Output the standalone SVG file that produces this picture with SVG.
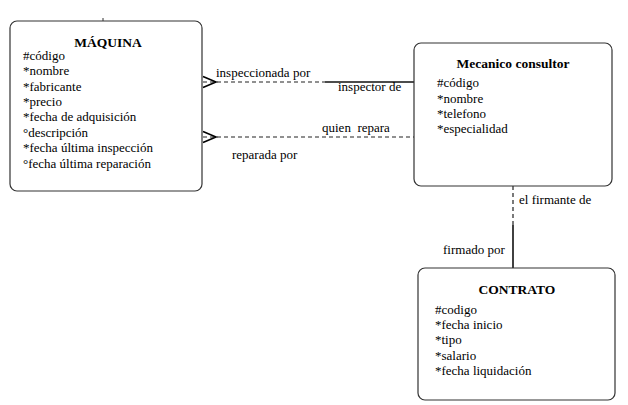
<svg xmlns="http://www.w3.org/2000/svg" width="628" height="405" viewBox="0 0 628 405" font-family="'Liberation Serif', 'DejaVu Serif', serif">
<style>
.box{fill:#fff;stroke:#333;stroke-width:1.2}
text{font-family:'Liberation Serif','DejaVu Serif',serif;font-size:13px;fill:#000}
.title{font-weight:bold;font-size:13.5px;text-anchor:middle}
.dash{fill:none;stroke:#222;stroke-width:1.2;stroke-dasharray:4 3}
.solid{fill:none;stroke:#111;stroke-width:1.6}
.crow{fill:none;stroke:#000;stroke-width:1.6}
</style>
<rect width="628" height="405" fill="#fff"/>
<g id="connectors">
  <path class="dash" d="M203,82 H325"/>
  <path class="solid" d="M325,82 H414"/>
  <path class="crow" d="M203,76.5 L216,82 L203,87.5"/>
  <path class="dash" d="M203,137 H414"/>
  <path class="crow" d="M203,131.5 L216,137 L203,142.5"/>
  <path class="dash" d="M513,186 V225"/>
  <path class="solid" d="M513,225 V268"/>
  <text x="216" y="77">inspeccionada por</text>
  <text x="338" y="91">inspector de</text>
  <text x="322" y="132" xml:space="preserve">quien  repara</text>
  <text x="232" y="159">reparada por</text>
  <text x="519" y="204">el firmante de</text>
  <text x="443" y="254">firmado por</text>
</g>
<g id="maquina">
  <path d="M103,18 V21" stroke="#333" stroke-width="1"/>
  <rect class="box" x="10" y="21" width="192" height="170" rx="7"/>
  <text class="title" x="108" y="47">MÁQUINA</text>
  <text x="23" y="60">#código</text>
  <text x="23" y="75">*nombre</text>
  <text x="23" y="91">*fabricante</text>
  <text x="23" y="106">*precio</text>
  <text x="23" y="121">*fecha de adquisición</text>
  <text x="23" y="137">°descripción</text>
  <text x="23" y="152">*fecha última inspección</text>
  <text x="23" y="168">°fecha última reparación</text>
</g>
<g id="mecanico">
  <rect class="box" x="414" y="43" width="198" height="143" rx="7"/>
  <text class="title" x="513" y="68">Mecanico consultor</text>
  <text x="437" y="87">#código</text>
  <text x="437" y="103">*nombre</text>
  <text x="437" y="118">*telefono</text>
  <text x="437" y="133">*especialidad</text>
</g>
<g id="contrato">
  <rect class="box" x="418" y="268" width="197" height="132" rx="7"/>
  <text class="title" x="517" y="294">CONTRATO</text>
  <text x="435" y="314">#codigo</text>
  <text x="435" y="329">*fecha inicio</text>
  <text x="435" y="344">*tipo</text>
  <text x="435" y="360">*salario</text>
  <text x="435" y="375">*fecha liquidación</text>
</g>
</svg>
